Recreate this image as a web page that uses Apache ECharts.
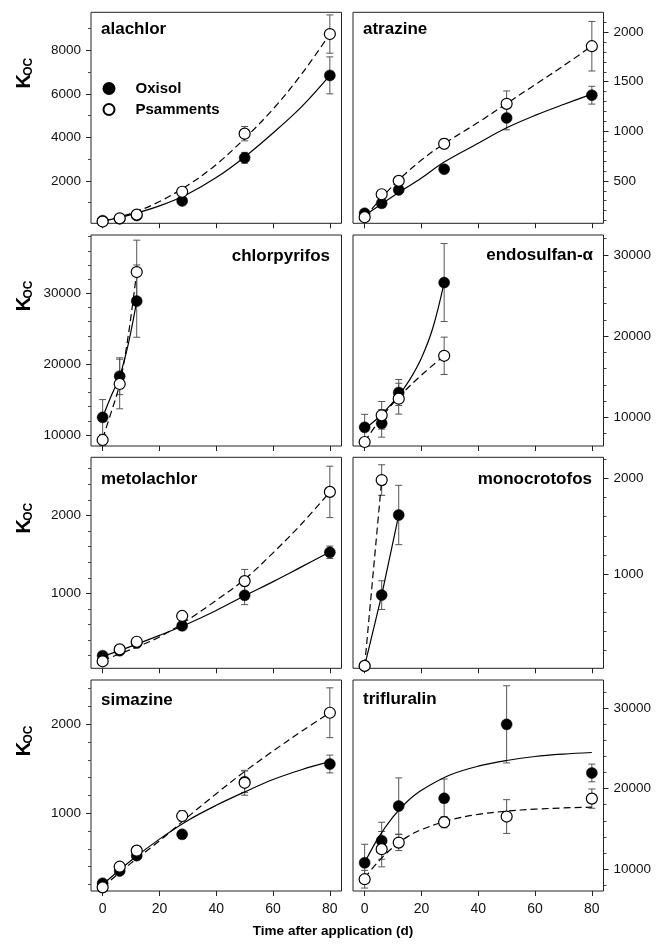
<!DOCTYPE html>
<html>
<head>
<meta charset="utf-8">
<title>Koc vs time after application</title>
<script src="https://cdn.jsdelivr.net/npm/echarts@6.0.0/dist/echarts.min.js"></script>
<style>
    html, body { margin: 0; padding: 0; background: #fff; }
    #chart { width: 657px; height: 949px; }
</style>
</head>
<body>
<div id="chart"></div>
<script>
/* ===== data ===== */
const days = [0, 6, 12, 28, 50, 80];
const daysTo12 = [0, 6, 12];
const daysTo28 = [0, 6, 12, 28];
const daysTo6 = [0, 6];
const fitDays = [0, 10, 20, 30, 40, 50, 60, 70, 80];
const xTicks = [0, 20, 40, 60, 80];

// alachlor
const alachlorOxisol = [170, 260, 410, 1080, 3060, 6850];
const alachlorOxisolErr = [0, 0, 0, 0, 250, 850];
const alachlorPsamments = [130, 280, 450, 1500, 4170, 8750];
const alachlorPsammentsErr = [0, 0, 0, 0, 330, 880];
const alachlorFitOxisol = [150, 450, 850, 1400, 2150, 3100, 4200, 5400, 6850];
const alachlorFitPsamments = [150, 500, 1050, 1800, 2750, 3950, 5300, 6900, 8750];
const alachlorTicks = [2000, 4000, 6000, 8000];
const alachlorMinor = [1000, 3000, 5000, 7000, 9000];

// atrazine
const atrazineOxisol = [173, 274, 409, 618, 1135, 1364];
const atrazineOxisolErr = [0, 0, 0, 0, 120, 90];
const atrazinePsamments = [133, 365, 500, 874, 1277, 1858];
const atrazinePsammentsErr = [0, 0, 0, 50, 130, 250];
const atrazineFitDays = [0, 10, 20, 28, 40, 50, 60, 70, 80];
const atrazineFitOxisol = [150, 345, 530, 690, 880, 1035, 1160, 1270, 1375];
const atrazineFitPsaDays = [0, 6, 12, 20, 28, 40, 50, 60, 70, 80];
const atrazineFitPsamments = [130, 330, 510, 710, 875, 1090, 1280, 1470, 1660, 1860];
const atrazineTicks = [500, 1000, 1500, 2000];
const atrazineMinor = [100, 200, 300, 400, 600, 700, 800, 900, 1100, 1200, 1300, 1400,
    1600, 1700, 1800, 1900, 2100];

// chlorpyrifos
const chlorpyrifosOxisol = [12500, 18300, 28900];
const chlorpyrifosOxisolErr = [2500, 2600, 5100];
const chlorpyrifosPsamments = [9300, 17200, 33000];
const chlorpyrifosPsammentsErr = [800, 3500, 4500];
const chlorpyrifosFitDays = [0, 3, 6, 9, 12];
const chlorpyrifosFitOxisol = [12500, 15500, 18300, 22800, 28900];
const chlorpyrifosFitPsamments = [9500, 13200, 17200, 24000, 33000];
const chlorpyrifosTicks = [10000, 20000, 30000];
const chlorpyrifosMinor = [12000, 14000, 16000, 18000, 22000, 24000, 26000, 28000,
    32000, 34000, 36000, 38000];

// endosulfan-α
const endosulfanOxisol = [8770, 9260, 13060, 26600];
const endosulfanOxisolErr = [1600, 1700, 1600, 4800];
const endosulfanPsamments = [6960, 10250, 12300, 17580];
const endosulfanPsammentsErr = [0, 1700, 1900, 2300];
const endosulfanFitOxiDays = [0, 4, 8, 12, 16, 20, 24, 28];
const endosulfanFitOxisol = [8600, 9700, 11100, 12700, 14700, 17300, 21000, 26600];
const endosulfanFitPsaDays = [0, 6, 12, 20, 28];
const endosulfanFitPsamments = [7000, 10000, 12500, 15200, 17600];
const endosulfanTicks = [10000, 20000, 30000];
const endosulfanMinor = [8000, 12000, 14000, 16000, 18000, 22000, 24000, 26000, 28000, 32000];

// metolachlor
const metolachlorOxisol = [200, 264, 362, 583, 975, 1527];
const metolachlorOxisolErr = [0, 0, 0, 0, 120, 80];
const metolachlorPsamments = [128, 281, 379, 710, 1157, 2302];
const metolachlorPsammentsErr = [0, 0, 0, 0, 150, 330];
const metolachlorFitOxisol = [190, 320, 460, 610, 780, 970, 1150, 1340, 1530];
const metolachlorFitPsamments = [140, 280, 440, 660, 910, 1180, 1520, 1890, 2300];
const metolachlorTicks = [1000, 2000];
const metolachlorMinor = [200, 400, 600, 800, 1200, 1400, 1600, 1800, 2200, 2400, 2600];

// monocrotofos
const monocrotofosOxisol = [40, 780, 1617];
const monocrotofosOxisolErr = [0, 150, 310];
const monocrotofosPsamments = [40, 1982];
const monocrotofosPsammentsErr = [0, 160];
const monocrotofosTicks = [1000, 2000];
const monocrotofosMinor = [200, 400, 600, 800, 1200, 1400, 1600, 1800, 2200];

// simazine
const simazineOxisol = [213, 352, 524, 764, 1355, 1554];
const simazineOxisolErr = [0, 0, 0, 0, 120, 100];
const simazinePsamments = [168, 400, 580, 970, 1343, 2130];
const simazinePsammentsErr = [0, 0, 0, 60, 140, 280];
const simazineFitOxisol = [200, 470, 710, 920, 1090, 1240, 1380, 1490, 1580];
const simazineFitPsamments = [170, 440, 690, 960, 1220, 1470, 1700, 1920, 2130];
const simazineTicks = [1000, 2000];
const simazineMinor = [200, 400, 600, 800, 1200, 1400, 1600, 1800, 2200, 2400];

// trifluralin
const trifluralinOxisol = [10780, 13520, 17840, 18800, 28000, 21950];
const trifluralinOxisolErr = [2300, 2300, 3500, 2400, 4800, 1100];
const trifluralinPsamments = [8730, 12470, 13290, 15830, 16530, 18760];
const trifluralinPsammentsErr = [1100, 2200, 1000, 700, 2100, 1200];
const trifluralinFitDays = [0, 5, 10, 15, 20, 30, 40, 50, 60, 70, 80];
const trifluralinFitOxisol = [10800, 14000, 16500, 18400, 19800, 21700, 22800, 23500, 24000, 24300, 24500];
const trifluralinFitPsamments = [8900, 11000, 12700, 14000, 14900, 16100, 16800, 17200, 17450, 17600, 17700];
const trifluralinTicks = [10000, 20000, 30000];
const trifluralinMinor = [8000, 12000, 14000, 16000, 18000, 22000, 24000, 26000, 28000, 32000];

/* ===== layout ===== */
const FONT = "'Liberation Sans', Arial, Helvetica, sans-serif";
const X_MIN = -4.1, X_MAX = 84.1;
const COL_LEFT = [91, 353];
const GRID_W = 250.5;
const ROW_TOP = [12.3, 235, 457.3, 680];
const GRID_H = 211;

const panels = [
    { title: "alachlor", row: 0, col: 0, titlePos: { left: 101, top: 21 },
      yMin: 50, yMax: 9750, ticks: alachlorTicks, minor: alachlorMinor,
      oxi: [days, alachlorOxisol, alachlorOxisolErr], psa: [days, alachlorPsamments, alachlorPsammentsErr],
      fitOxi: [fitDays, alachlorFitOxisol], fitPsa: [fitDays, alachlorFitPsamments], smooth: true },
    { title: "atrazine", row: 0, col: 1, titlePos: { left: 363, top: 21 },
      yMin: 72, yMax: 2200, ticks: atrazineTicks, minor: atrazineMinor,
      oxi: [days, atrazineOxisol, atrazineOxisolErr], psa: [days, atrazinePsamments, atrazinePsammentsErr],
      fitOxi: [atrazineFitDays, atrazineFitOxisol], fitPsa: [atrazineFitPsaDays, atrazineFitPsamments], smooth: true },
    { title: "chlorpyrifos", row: 1, col: 0, titlePos: { right: 327, top: 248 },
      yMin: 8450, yMax: 38230, ticks: chlorpyrifosTicks, minor: chlorpyrifosMinor,
      oxi: [daysTo12, chlorpyrifosOxisol, chlorpyrifosOxisolErr], psa: [daysTo12, chlorpyrifosPsamments, chlorpyrifosPsammentsErr],
      fitOxi: [chlorpyrifosFitDays, chlorpyrifosFitOxisol], fitPsa: [chlorpyrifosFitDays, chlorpyrifosFitPsamments], smooth: true },
    { title: "endosulfan-α", row: 1, col: 1, titlePos: { right: 64, top: 247 },
      yMin: 6470, yMax: 32460, ticks: endosulfanTicks, minor: endosulfanMinor,
      oxi: [daysTo28, endosulfanOxisol, endosulfanOxisolErr], psa: [daysTo28, endosulfanPsamments, endosulfanPsammentsErr],
      fitOxi: [endosulfanFitOxiDays, endosulfanFitOxisol], fitPsa: [endosulfanFitPsaDays, endosulfanFitPsamments], smooth: true },
    { title: "metolachlor", row: 2, col: 0, titlePos: { left: 101, top: 471 },
      yMin: 38, yMax: 2746, ticks: metolachlorTicks, minor: metolachlorMinor,
      oxi: [days, metolachlorOxisol, metolachlorOxisolErr], psa: [days, metolachlorPsamments, metolachlorPsammentsErr],
      fitOxi: [fitDays, metolachlorFitOxisol], fitPsa: [fitDays, metolachlorFitPsamments], smooth: true },
    { title: "monocrotofos", row: 2, col: 1, titlePos: { right: 65, top: 471 },
      yMin: 15, yMax: 2220, ticks: monocrotofosTicks, minor: monocrotofosMinor,
      oxi: [daysTo12, monocrotofosOxisol, monocrotofosOxisolErr], psa: [daysTo6, monocrotofosPsamments, monocrotofosPsammentsErr],
      fitOxi: [daysTo12, monocrotofosOxisol], fitPsa: [daysTo6, monocrotofosPsamments], smooth: false },
    { title: "simazine", row: 3, col: 0, titlePos: { left: 101, top: 692 },
      yMin: 127, yMax: 2498, ticks: simazineTicks, minor: simazineMinor,
      oxi: [days, simazineOxisol, simazineOxisolErr], psa: [days, simazinePsamments, simazinePsammentsErr],
      fitOxi: [fitDays, simazineFitOxisol], fitPsa: [fitDays, simazineFitPsamments], smooth: true },
    { title: "trifluralin", row: 3, col: 1, titlePos: { left: 363, top: 691 },
      yMin: 7264, yMax: 33520, ticks: trifluralinTicks, minor: trifluralinMinor,
      oxi: [days, trifluralinOxisol, trifluralinOxisolErr], psa: [days, trifluralinPsamments, trifluralinPsammentsErr],
      fitOxi: [trifluralinFitDays, trifluralinFitOxisol], fitPsa: [trifluralinFitDays, trifluralinFitPsamments], smooth: true },
];

/* ===== series helpers ===== */
function pairs(xs, ys) {
    return xs.map((x, k) => [x, ys[k]]);
}

function errorBars(i, set) {
    const [xs, ys, errs] = set;
    return {
        type: "custom",
        xAxisIndex: i,
        yAxisIndex: 2 * i,
        z: 1,
        silent: true,
        encode: { x: 0, y: 1 },
        data: xs.map((x, k) => [x, ys[k], errs[k]]),
        renderItem(params, api) {
            const e = api.value(2);
            if (!e) return null;
            const x = api.value(0), y = api.value(1);
            const top = api.coord([x, y + e]);
            const bot = api.coord([x, y - e]);
            const hw = 3.5;
            const style = { stroke: "#555", lineWidth: 1 };
            return {
                type: "group",
                children: [
                    { type: "line", shape: { x1: top[0], y1: top[1], x2: bot[0], y2: bot[1] }, style },
                    { type: "line", shape: { x1: top[0] - hw, y1: top[1], x2: top[0] + hw, y2: top[1] }, style },
                    { type: "line", shape: { x1: bot[0] - hw, y1: bot[1], x2: bot[0] + hw, y2: bot[1] }, style },
                ],
            };
        },
    };
}

function fitLine(i, set, dashed, smooth) {
    return {
        type: "line",
        xAxisIndex: i,
        yAxisIndex: 2 * i,
        z: 2,
        silent: true,
        symbol: "none",
        smooth: smooth ? 0.35 : false,
        data: pairs(set[0], set[1]),
        lineStyle: { color: "#000", width: 1.2, type: dashed ? [7, 4] : "solid" },
    };
}

const plainNumber = v => String(v);
const grid = [], xAxis = [], yAxis = [], series = [], title = [], graphic = [];

panels.forEach((p, i) => {
    grid.push({
        left: COL_LEFT[p.col], top: ROW_TOP[p.row], width: GRID_W, height: GRID_H,
        show: true, borderColor: "#222", borderWidth: 1, backgroundColor: "transparent",
    });

    xAxis.push({
        gridIndex: i, type: "value", min: X_MIN, max: X_MAX,
        axisLine: { show: false, onZero: false },
        splitLine: { show: false },
        axisTick: { show: true, customValues: xTicks, length: 5, lineStyle: { color: "#222" } },
        axisLabel: {
            show: p.row === 3, customValues: xTicks, margin: 11, formatter: plainNumber,
            fontSize: 14, fontFamily: FONT, color: "#111",
        },
    });

    const side = p.col === 0 ? "left" : "right";
    yAxis.push({
        gridIndex: i, type: "value", position: side, min: p.yMin, max: p.yMax,
        axisLine: { show: false, onZero: false },
        splitLine: { show: false },
        axisTick: { show: true, customValues: p.ticks, length: 5, lineStyle: { color: "#222" } },
        axisLabel: {
            customValues: p.ticks, margin: 10, formatter: plainNumber,
            fontSize: 13.5, fontFamily: FONT, color: "#111",
        },
    });
    yAxis.push({
        gridIndex: i, type: "value", position: side, min: p.yMin, max: p.yMax,
        axisLine: { show: false, onZero: false },
        splitLine: { show: false },
        axisTick: { show: true, customValues: p.minor, length: 3, lineStyle: { color: "#444" } },
        axisLabel: { show: false },
    });

    series.push(errorBars(i, p.oxi), errorBars(i, p.psa));
    series.push(fitLine(i, p.fitOxi, false, p.smooth), fitLine(i, p.fitPsa, true, p.smooth));
    series.push({
        type: "scatter", name: "Oxisol", xAxisIndex: i, yAxisIndex: 2 * i, z: 3,
        symbol: "circle", symbolSize: 11,
        data: pairs(p.oxi[0], p.oxi[1]),
        itemStyle: { color: "#000", borderColor: "#000", borderWidth: 0.5, opacity: 1 },
    });
    series.push({
        type: "scatter", name: "Psamments", xAxisIndex: i, yAxisIndex: 2 * i, z: 4,
        symbol: "circle", symbolSize: 11,
        data: pairs(p.psa[0], p.psa[1]),
        itemStyle: { color: "#fff", borderColor: "#000", borderWidth: 1.2, opacity: 1 },
    });

    title.push(Object.assign({
        text: p.title, padding: 0,
        textStyle: { fontSize: 17, fontWeight: "bold", fontFamily: FONT, color: "#000" },
    }, p.titlePos));
});

// K_OC on every row of the left column
ROW_TOP.forEach(top => {
    graphic.push({
        type: "text", x: 24.5, y: top + 69, rotation: Math.PI / 2, silent: true,
        style: { text: "K", fontSize: 20, fontWeight: "bold", fontFamily: FONT, fill: "#000",
                 align: "center", verticalAlign: "middle" },
    });
    graphic.push({
        type: "text", x: 29, y: top + 54.5, rotation: Math.PI / 2, silent: true,
        style: { text: "OC", fontSize: 12, fontWeight: "bold", fontFamily: FONT, fill: "#000",
                 align: "center", verticalAlign: "middle" },
    });
});

graphic.push({
    type: "text", x: 333, y: 931, silent: true,
    style: { text: "Time after application (d)", fontSize: 13.5, fontWeight: "bold", fontFamily: FONT,
             fill: "#000", align: "center", verticalAlign: "middle" },
});

/* ===== render ===== */
const chart = echarts.init(document.getElementById("chart"), null, { renderer: "canvas" });
chart.setOption({
    animation: false,
    backgroundColor: "#fff",
    title,
    legend: {
        data: ["Oxisol", "Psamments"],
        orient: "vertical",
        left: 102.5,
        top: 81,
        itemWidth: 11,
        itemHeight: 11,
        itemGap: 6,
        padding: 0,
        selectedMode: false,
        textStyle: { fontSize: 15, fontWeight: "bold", fontFamily: FONT, color: "#000", padding: [0, 0, 0, 16] },
    },
    grid,
    xAxis,
    yAxis,
    series,
    graphic,
});
</script>
</body>
</html>
